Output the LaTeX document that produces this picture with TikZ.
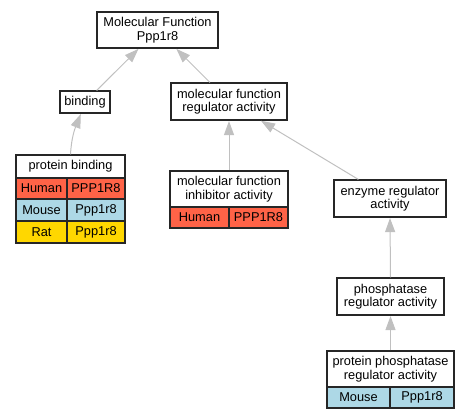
\documentclass[tikz,border=0pt]{standalone}
\usepackage{fontspec}
\setmainfont{Liberation Sans}
\usetikzlibrary{arrows.meta}
\definecolor{human}{HTML}{FF6347}
\definecolor{mouse}{HTML}{ADD8E6}
\definecolor{rat}{HTML}{FFD700}
\definecolor{edgegray}{HTML}{C0C0C0}
\tikzset{
  box/.style={draw=black!85, line width=1.1pt, fill=white, inner sep=0pt, align=center,
    font=\fontsize{12.8}{13.4}\selectfont},
  cell/.style={box, fill=#1},
  edge/.style={draw=edgegray, line width=1pt, -{Triangle[length=14pt,width=10pt]}, shorten >=0.5pt},
}
\begin{document}
\begin{tikzpicture}[x=1pt,y=-1pt]
\useasboundingbox (0,0) rectangle (468,419);
% nodes
\node[box, minimum width=121pt, minimum height=36pt] (mf) at (157.5,30) {Molecular Function\\Ppp1r8};
\node[box, minimum width=50pt, minimum height=22pt] (bind) at (85,102) {binding};
\node[box, minimum width=116pt, minimum height=37pt] (mfr) at (229,101.5) {molecular function\\regulator activity};
% protein binding table
\node[box, minimum width=109pt, minimum height=23pt] (pbh) at (70.5,166.5) {protein binding};
\node[cell=human, minimum width=51pt, minimum height=21pt] (pbhs) at (41.5,188.5) {Human};
\node[cell=human, minimum width=58pt, minimum height=21pt] (pbhg) at (96,188.5) {PPP1R8};
\node[cell=mouse, minimum width=51pt, minimum height=22pt] (pbms) at (41.5,210) {Mouse};
\node[cell=mouse, minimum width=58pt, minimum height=22pt] (pbmg) at (96,210) {Ppp1r8};
\node[cell=rat, minimum width=51pt, minimum height=22pt] (pbrs) at (41.5,232) {Rat};
\node[cell=rat, minimum width=58pt, minimum height=22pt] (pbrg) at (96,232) {Ppp1r8};
% inhibitor table
\node[box, minimum width=118pt, minimum height=36pt] (inh) at (229,189) {molecular function\\inhibitor activity};
\node[cell=human, minimum width=59pt, minimum height=21pt] (inhs) at (199.5,217.5) {Human};
\node[cell=human, minimum width=59pt, minimum height=21pt] (inhg) at (258.5,217.5) {PPP1R8};
% right column
\node[box, minimum width=112pt, minimum height=37pt] (enz) at (390,198.5) {enzyme regulator\\activity};
\node[box, minimum width=107pt, minimum height=37pt] (phos) at (390.5,296.5) {phosphatase\\regulator activity};
\node[box, minimum width=127pt, minimum height=36pt] (ppr) at (390.5,369) {protein phosphatase\\regulator activity};
\node[cell=mouse, minimum width=63pt, minimum height=21pt] (pprs) at (358.5,397.5) {Mouse};
\node[cell=mouse, minimum width=64pt, minimum height=21pt] (pprg) at (422,397.5) {Ppp1r8};
% edges
\draw[edge] (bind) -- (mf);
\draw[edge] (mfr) -- (mf);
\draw[edge] (pbh.north) to[out=87,in=-112] ([xshift=-4pt]bind.south);
\draw[edge] (inh.north) -- (mfr.south);
\draw[edge] (enz) -- (mfr);
\draw[edge] (phos.north) -- (enz.south);
\draw[edge] (ppr.north) -- (phos.south);
\end{tikzpicture}
\end{document}
